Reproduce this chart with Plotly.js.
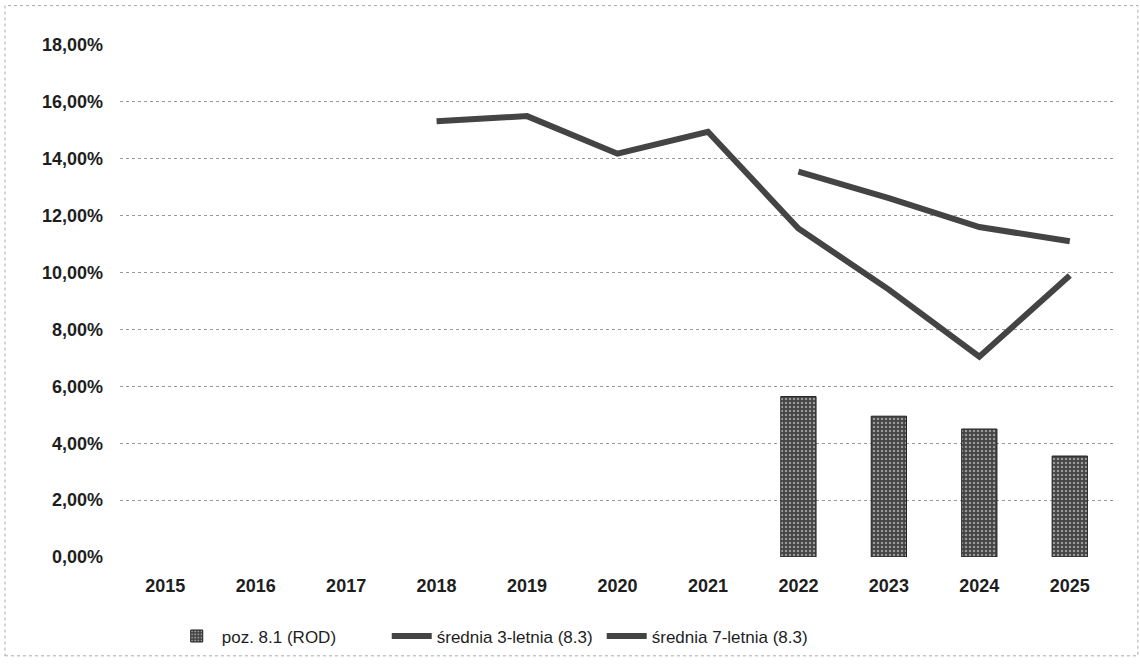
<!DOCTYPE html>
<html>
<head>
<meta charset="utf-8">
<script src="https://cdn.plot.ly/plotly-3.0.1.min.js"></script>
<style>html,body{margin:0;padding:0;background:#fff;}#chart{width:1140px;height:666px;}</style>
</head>
<body>
<div id="chart"></div>
<script>
const years = ['2015','2016','2017','2018','2019','2020','2021','2022','2023','2024','2025'];
const rodValues = [null,null,null,null,null,null,null,0.0564,0.0495,0.0450,0.0355];
const avg3Values = [null,null,null,0.1532,0.1550,0.1418,0.1495,0.1155,0.0940,0.0704,0.0990];
const avg7Values = [null,null,null,null,null,null,null,0.1355,0.1262,0.1160,0.1110];
const yTicks = [0,0.02,0.04,0.06,0.08,0.10,0.12,0.14,0.16,0.18];
const seriesNames = ['poz. 8.1 (ROD)','średnia 3-letnia (8.3)','średnia 7-letnia (8.3)'];

const traces = [
  {type:'bar', x:years, y:rodValues, name:seriesNames[0],
   marker:{color:'#555', line:{color:'#222', width:1},
           pattern:{shape:'.', fgcolor:'#999', bgcolor:'#444', size:4, solidity:0.3}}},
  {type:'scatter', mode:'lines', x:years, y:avg3Values, name:seriesNames[1],
   line:{color:'#444', width:6}},
  {type:'scatter', mode:'lines', x:years, y:avg7Values, name:seriesNames[2],
   line:{color:'#444', width:6}}
];

const layout = {
  width:1140, height:666,
  margin:{l:120, r:25, t:45, b:104},
  paper_bgcolor:'#fff', plot_bgcolor:'#fff',
  separators:', ',
  bargap:0.61,
  showlegend:true,
  font:{family:'Liberation Sans, Arial, sans-serif', color:'#222'},
  xaxis:{type:'category', tickvals:years, ticktext:years, showgrid:false, zeroline:false,
         showline:false, ticks:'', ticklabelstandoff:16,
         tickfont:{size:18, weight:'bold', color:'#1e1e1e'}},
  yaxis:{range:[0,0.18], tickvals:yTicks, tickformat:'.2%', showline:false, zeroline:false,
         gridcolor:'#999', griddash:'dot', gridwidth:1, ticks:'', ticklabelstandoff:16,
         tickfont:{size:18, weight:'bold', color:'#1e1e1e'}},
  legend:{orientation:'h', x:0.052, xanchor:'left', y:-0.12, yanchor:'top',
          font:{size:17, color:'#1e1e1e'}, itemwidth:40, traceorder:'normal',
          entrywidth:160, entrywidthmode:'pixels'},
  shapes:[{type:'rect', xref:'paper', yref:'paper', x0:-0.1156, x1:1.023, y0:-0.193, y1:1.077,
           line:{color:'#aaa', width:1, dash:'dot'}}]
};

Plotly.newPlot('chart', traces, layout, {displayModeBar:false, staticPlot:true});
</script>
</body>
</html>
